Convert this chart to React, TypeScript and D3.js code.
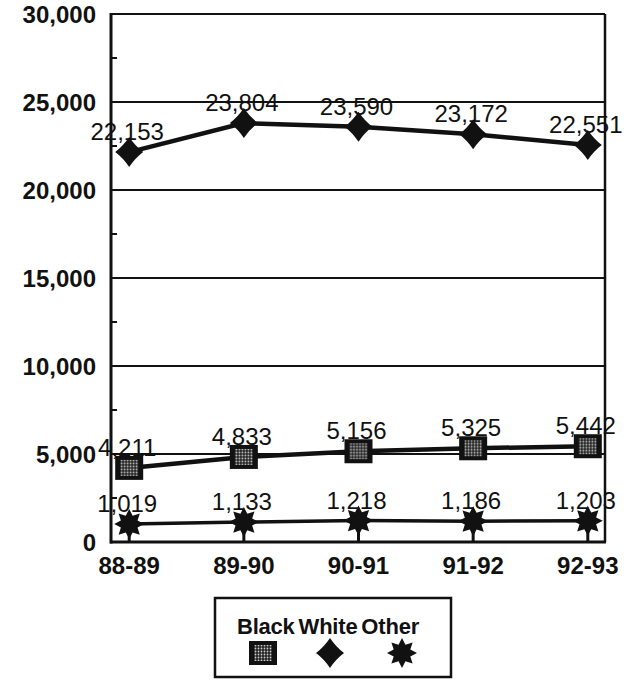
import React from "react";
import * as d3 from "d3";

const categories = ["88-89", "89-90", "90-91", "91-92", "92-93"];
const blackValues = [4211, 4833, 5156, 5325, 5442];
const whiteValues = [22153, 23804, 23590, 23172, 22551];
const otherValues = [1019, 1133, 1218, 1186, 1203];
const yTicks = [0, 5000, 10000, 15000, 20000, 25000, 30000];
const yMinorTicks = [2500, 7500, 12500, 17500, 22500, 27500];

const W = 634;
const H = 687;
const left = 111;
const right = 605;
const top = 14;
const bottom = 542;

const FONT = "'Liberation Sans', Arial, Helvetica, sans-serif";

function starPath(ro: number, ri: number, n: number) {
  const pts: [number, number][] = [];
  for (let i = 0; i < n * 2; i++) {
    const r = i % 2 === 0 ? ro : ri;
    const a = (Math.PI * i) / n - Math.PI / 2;
    pts.push([Math.cos(a) * r, Math.sin(a) * r]);
  }
  return d3.line()(pts) + "Z";
}

const diamondPath = "M0,-15 Q6,-6 14,0 Q6,6 0,15 Q-6,6 -14,0 Q-6,-6 0,-15Z";
const star = starPath(15, 9, 8);

function SquareMark({ x, y }: { x: number; y: number }) {
  return (
    <g transform={`translate(${x},${y})`}>
      <rect x={-14} y={-12} width={28} height={24} fill="#111" />
      <rect x={-9} y={-8} width={18} height={16} fill="url(#stipple)" />
    </g>
  );
}
function DiamondMark({ x, y }: { x: number; y: number }) {
  return <path transform={`translate(${x},${y})`} d={diamondPath} fill="#111" />;
}
function StarMark({ x, y }: { x: number; y: number }) {
  return <path transform={`translate(${x},${y})`} d={star} fill="#111" />;
}

export default function App() {
  const x = d3.scalePoint<string>().domain(categories).range([left + 1, right]).padding(0.15);
  const y = d3.scaleLinear().domain([0, 30000]).range([bottom, top]);
  const fmt = d3.format(",");

  const line = d3
    .line<number>()
    .x((_, i) => x(categories[i]) as number)
    .y((d) => y(d));

  const series = [
    { key: "White", values: whiteValues, width: 4.5, Mark: DiamondMark },
    { key: "Black", values: blackValues, width: 4.5, Mark: SquareMark },
    { key: "Other", values: otherValues, width: 3.5, Mark: StarMark },
  ];

  return (
    <div style={{ position: "absolute", left: 0, top: 0 }}>
      <svg width={W} height={H} style={{ display: "block", background: "#fff" }} fontFamily={FONT}>
        <defs>
          <pattern id="stipple" width={3} height={3} patternUnits="userSpaceOnUse">
            <rect width={3} height={3} fill="#222" />
            <circle cx={1.5} cy={1.5} r={0.9} fill="#ccc" />
          </pattern>
        </defs>

        {/* gridlines */}
        {yTicks.filter((t) => t > 0).map((t) => (
          <line key={t} x1={left} x2={right} y1={y(t)} y2={y(t)} stroke="#111" strokeWidth={2} />
        ))}
        {/* minor ticks */}
        {yMinorTicks.map((t) => (
          <line key={t} x1={left} x2={left + 6} y1={y(t)} y2={y(t)} stroke="#111" strokeWidth={2} />
        ))}
        {/* frame */}
        <line x1={right} x2={right} y1={top} y2={bottom} stroke="#111" strokeWidth={2.5} />
        <line x1={left} x2={left} y1={top - 1} y2={bottom + 1.5} stroke="#111" strokeWidth={3} />
        <line x1={left - 1} x2={right + 1} y1={bottom} y2={bottom} stroke="#111" strokeWidth={3} />
        {/* x ticks (inside) */}
        {categories.map((c) => (
          <line key={c} x1={x(c)} x2={x(c)} y1={bottom} y2={bottom - 20} stroke="#111" strokeWidth={3} />
        ))}

        {/* y tick labels */}
        {yTicks.map((t) => (
          <text
            key={t}
            x={96}
            y={y(t)}
            dy="0.36em"
            textAnchor="end"
            fontSize={24}
            fontWeight="bold"
            fill="#111"
          >
            {fmt(t)}
          </text>
        ))}
        {/* x tick labels */}
        {categories.map((c) => (
          <text
            key={c}
            x={x(c)}
            y={574}
            textAnchor="middle"
            fontSize={24}
            fontWeight="bold"
            fill="#111"
          >
            {c}
          </text>
        ))}

        {/* lines */}
        {series.map((s) => (
          <path key={s.key} d={line(s.values) as string} fill="none" stroke="#111" strokeWidth={s.width} />
        ))}
        {/* markers */}
        {series.map((s) =>
          s.values.map((v, i) => <s.Mark key={s.key + i} x={x(categories[i]) as number} y={y(v)} />)
        )}
        {/* data labels */}
        {series.map((s) =>
          s.values.map((v, i) => (
            <text
              key={"l" + s.key + i}
              x={(x(categories[i]) as number) - 2}
              y={y(v) - 12}
              textAnchor="middle"
              fontSize={24}
              fill="#111"
            >
              {fmt(v)}
            </text>
          ))
        )}

        {/* legend */}
        <rect x={215} y={598} width={236} height={79} fill="#fff" stroke="#111" strokeWidth={2.5} />
        <text
          x={328}
          y={634}
          textAnchor="middle"
          fontSize={22}
          fontWeight="bold"
          wordSpacing={-2}
          letterSpacing={-0.2}
          fill="#111"
        >
          Black White Other
        </text>
        <SquareMark x={263} y={653} />
        <DiamondMark x={330} y={653} />
        <StarMark x={402} y={653} />
      </svg>
    </div>
  );
}
